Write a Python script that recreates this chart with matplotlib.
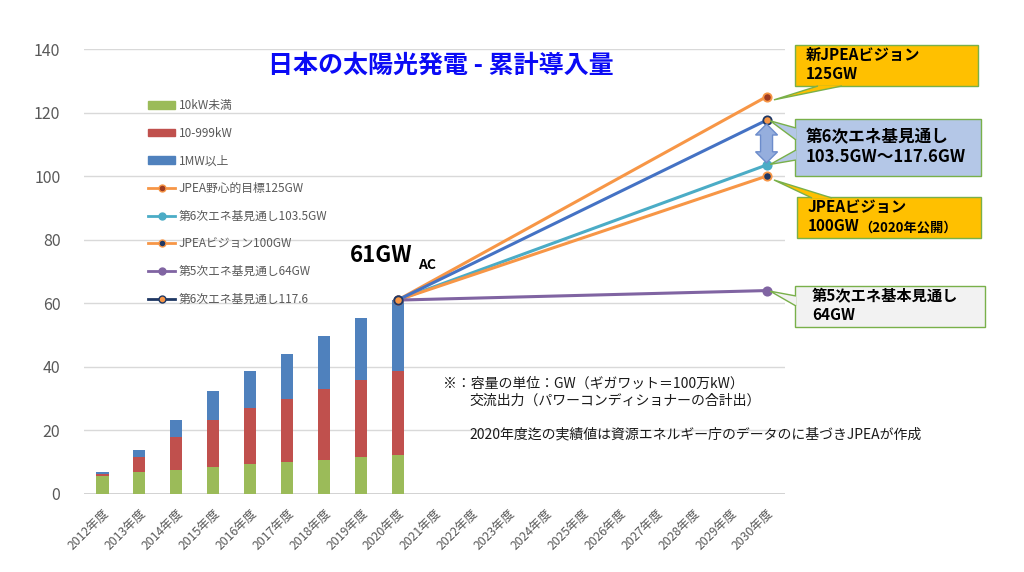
import matplotlib
matplotlib.use('Agg')
import matplotlib.pyplot as plt
import matplotlib.patches as mpatches
from matplotlib.lines import Line2D
from matplotlib.transforms import IdentityTransform
import numpy as np

plt.rcParams['font.family'] = ['Noto Sans CJK JP', 'DejaVu Sans']

# ---- data ----
years = [f'{y}年度' for y in range(2012, 2031)]
bar_years = list(range(9))            # 2012..2020
small_10kw = [5.7, 6.95, 7.7, 8.5, 9.5, 10.1, 10.7, 11.6, 12.3]
mid_10_999 = [0.7, 4.55, 10.2, 14.9, 17.7, 19.9, 22.3, 24.4, 26.3]
large_1mw = [0.45, 2.2, 5.3, 8.9, 11.4, 14.1, 16.7, 19.4, 22.4]

line_x = [8, 18]                      # 2020年度 -> 2030年度
jpea_125 = [61, 125]
eneki6_103 = [61, 103.5]
jpea_100 = [61, 100]
eneki5_64 = [61, 64]
eneki6_117 = [61, 117.6]

GREEN, RED, BLUE = '#9BBB59', '#C0504D', '#4F81BD'
ORANGE, CYAN, PURPLE, LBLUE = '#F79646', '#4BACC6', '#8064A2', '#4472C4'
NAVY = '#1F3864'
GRAY = '#595959'

W, H = 1024, 572
fig = plt.figure(figsize=(W / 100, H / 100), dpi=100)
ax = fig.add_axes([84 / W, 1 - 494 / H, (785 - 84) / W, (494 - 49) / H])


def fp(x, y):
    """image pixel (top-left origin) -> figure fraction"""
    return (x / W, 1 - y / H)


def dp(x, y):
    """data -> figure fraction"""
    return fig.transFigure.inverted().transform(ax.transData.transform((x, y)))


# bars
bw = 0.33
ax.bar(bar_years, small_10kw, bw, color=GREEN, zorder=2)
ax.bar(bar_years, mid_10_999, bw, bottom=small_10kw, color=RED, zorder=2)
bot2 = np.array(small_10kw) + np.array(mid_10_999)
ax.bar(bar_years, large_1mw, bw, bottom=bot2, color=BLUE, zorder=2)

# projection lines
lkw = dict(lw=2.2, ms=6, mew=1.3, zorder=4)
ax.plot(line_x, jpea_125, '-o', color=ORANGE, mfc='#9E3B22', mec=ORANGE, **lkw)
ax.plot(line_x, eneki6_103, '-o', color=CYAN, mfc=CYAN, mec=CYAN, **lkw)
ax.plot(line_x, jpea_100, '-o', color=ORANGE, mfc=NAVY, mec=ORANGE, **lkw)
ax.plot(line_x, eneki5_64, '-o', color=PURPLE, mfc=PURPLE, mec=PURPLE, **lkw)
ax.plot(line_x, eneki6_117, '-o', color=LBLUE, mfc=ORANGE, mec=NAVY, **lkw)

ax.set_xlim(-0.5, 18.5)
ax.set_ylim(0, 140)
ax.set_yticks(range(0, 141, 20))
ax.set_xticks(range(len(years)))
ax.set_xticklabels(years, rotation=45, ha='right', rotation_mode='anchor', fontsize=8.8, color=GRAY)
ax.tick_params(axis='x', length=0, pad=9)
ax.tick_params(axis='y', length=0, pad=17, labelsize=11.5, labelcolor=GRAY)
for s in ax.spines.values():
    s.set_visible(False)
ax.yaxis.grid(True, color='#D9D9D9', lw=1, zorder=0)
ax.axhline(0, color='#D0D0D0', lw=1.3, zorder=1)
ax.set_axisbelow(True)

# legend (custom handles so the 117.6 line shows navy like the original)
handles = [
    mpatches.Patch(color=GREEN), mpatches.Patch(color=RED), mpatches.Patch(color=BLUE),
    Line2D([], [], color=ORANGE, marker='o', mfc='#9E3B22', mec=ORANGE, lw=2, ms=5),
    Line2D([], [], color=CYAN, marker='o', mfc=CYAN, mec=CYAN, lw=2, ms=5),
    Line2D([], [], color=ORANGE, marker='o', mfc=NAVY, mec=ORANGE, lw=2, ms=5),
    Line2D([], [], color=PURPLE, marker='o', mfc=PURPLE, mec=PURPLE, lw=2, ms=5),
    Line2D([], [], color=NAVY, marker='o', mfc=ORANGE, mec=NAVY, lw=2, ms=5),
]
labels = ['10kW未満', '10-999kW', '1MW以上', 'JPEA野心的目標125GW', '第6次エネ基見通し103.5GW',
          'JPEAビジョン100GW', '第5次エネ基見通し64GW', '第6次エネ基見通し117.6']
leg = fig.legend(handles, labels, loc='upper left', bbox_to_anchor=fp(148, 99), frameon=False,
                 fontsize=8.5, labelspacing=1.24, handlelength=2.3, handleheight=0.6,
                 handletextpad=0.3, borderaxespad=0, borderpad=0)
for t in leg.get_texts():
    t.set_color(GRAY)

# title
fig.text(*fp(441, 66), '日本の太陽光発電 - 累計導入量', ha='center', va='center',
         fontsize=18, fontweight='bold', color='#0A0AF5')

# 61GW label
fig.text(*fp(350, 262), '61GW', ha='left', va='baseline', fontsize=16, fontweight='bold', color='black')
fig.text(*fp(418, 269), 'AC', ha='left', va='baseline', fontsize=10, fontweight='bold', color='black')

# note
nkw = dict(ha='left', va='center', fontsize=10, color='#1A1A1A')
fig.text(*fp(443, 384), '※：容量の単位：GW（ギガワット＝100万kW）', **nkw)
fig.text(*fp(469, 401), '交流出力（パワーコンディショナーの合計出）', **nkw)
fig.text(*fp(469, 434), '2020年度迄の実績値は資源エネルギー庁のデータのに基づきJPEAが作成', **nkw)

# double arrow between 117.6 and 103.5 (built in display pixels)
cx, ty = ax.transData.transform((18, 116.4))
_, by = ax.transData.transform((18, 104.2))
sw, hw, hl = 6, 11, 11
arrow_pts = [(cx, ty), (cx + hw, ty - hl), (cx + sw, ty - hl), (cx + sw, by + hl), (cx + hw, by + hl),
             (cx, by), (cx - hw, by + hl), (cx - sw, by + hl), (cx - sw, ty - hl), (cx - hw, ty - hl)]
fig.patches.append(mpatches.Polygon(arrow_pts, closed=True, transform=IdentityTransform(),
                                    fc='#95AEDD', ec='#6C8CCB', lw=1, zorder=6))

EDGE = '#79B04A'


def callout(box, fc, wedges):
    x0, y0, x1, y1 = box
    (bx, by_) = fp(x0, y1)
    rect = mpatches.Rectangle((bx, by_), (x1 - x0) / W, (y1 - y0) / H, transform=fig.transFigure,
                              fc=fc, ec=EDGE, lw=1, zorder=8)
    fig.patches.append(rect)
    for (p1, p2, tgt) in wedges:
        poly = mpatches.Polygon([fp(*p1), dp(*tgt), fp(*p2)], closed=False, transform=fig.transFigure,
                                fc=fc, ec=EDGE, lw=1, zorder=9)
        fig.patches.append(poly)


callout((795, 45, 978, 86), '#FFC000', [((818, 86), (842, 86), (18.2, 124.0))])
callout((795, 119, 981, 176), '#B4C7E7', [((796, 128), (796, 140), (18.1, 117.4)),
                                          ((796, 150), (796, 160), (18.1, 103.7))])
callout((797, 197, 981, 238), '#FFC000', [((812, 198), (832, 198), (18.2, 98.8))])
callout((795, 286, 985, 327), '#F2F2F2', [((796, 296), (796, 306), (18.1, 63.8))])

tkw = dict(ha='left', va='center', fontweight='bold', color='black', zorder=10)
fig.text(*fp(806, 55), '新JPEAビジョン', fontsize=11, **tkw)
fig.text(*fp(806, 74), '125GW', fontsize=11, **tkw)
fig.text(*fp(806, 137), '第6次エネ基見通し', fontsize=12, **tkw)
fig.text(*fp(806, 157), '103.5GW～117.6GW', fontsize=12, **tkw)
fig.text(*fp(808, 207), 'JPEAビジョン', fontsize=11, **tkw)
fig.text(*fp(808, 226), '100GW', fontsize=11, **tkw)
fig.text(*fp(859, 227), '（2020年公開）', fontsize=9.5, **tkw)
fig.text(*fp(812, 296), '第5次エネ基本見通し', fontsize=11, **tkw)
fig.text(*fp(812, 315), '64GW', fontsize=11, **tkw)

fig.savefig('out.png', dpi=100)
